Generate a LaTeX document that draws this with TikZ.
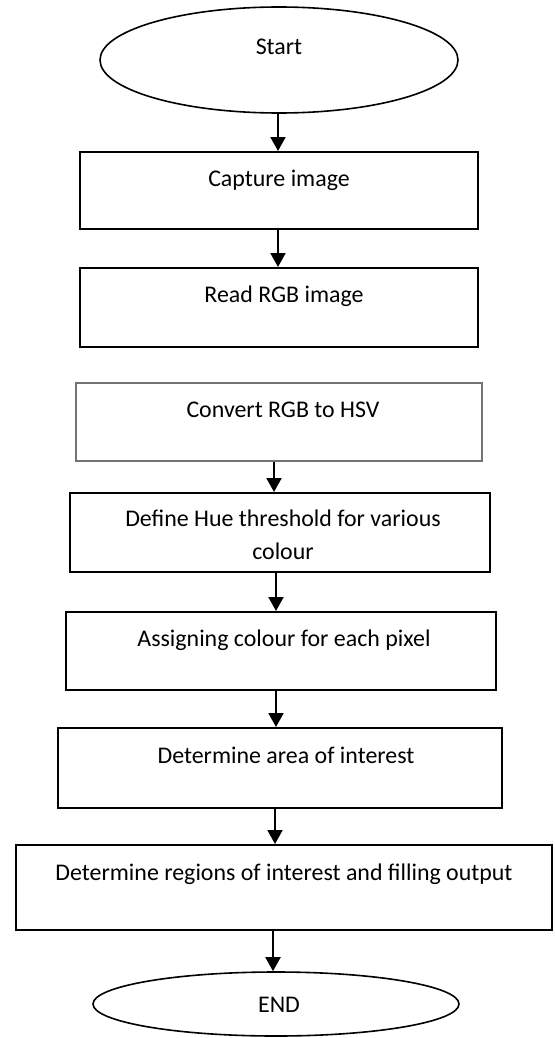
\documentclass[tikz,border=0pt]{standalone}
\usepackage{fontspec}
\setmainfont{Carlito}
\usetikzlibrary{arrows.meta,shapes.geometric}
\begin{document}
\begin{tikzpicture}[x=1pt,y=-1pt,
  font=\fontsize{23.9}{33}\selectfont,
  stepbox/.style={draw=black,line width=2pt,rectangle,inner sep=0pt},
  softbox/.style={draw=black!55,line width=1.3pt,rectangle,inner sep=0pt},
  term/.style={draw=black,line width=1.6pt,ellipse,inner sep=0pt},
  txt/.style={anchor=base,inner sep=0pt,align=center},
  flow/.style={line width=2pt,-{Triangle[width=15pt,length=14pt]}}
]
\useasboundingbox (0,0) rectangle (554,1038);

% terminals
\node[term,minimum width=358,minimum height=106] (start) at (279,60) {};
\node[txt] (startt) at (279,55) {Start};
\node[term,minimum width=366,minimum height=64] (end) at (276,1004) {};
\node[txt] (endt) at (279,1012) {END};

% process steps (box, then its caption set near the top)
\node[stepbox,minimum width=398,minimum height=77] (cap) at (279,190.5) {};
\node[txt] (capt) at (279,186) {Capture image};

\node[stepbox,minimum width=398,minimum height=79] (rgb) at (279,307.5) {};
\node[txt] (rgbt) at (284,302) {Read RGB image};

\node[softbox,minimum width=406,minimum height=78] (hsv) at (279,422) {};
\node[txt] (hsvt) at (283,417) {Convert RGB to HSV};

\node[stepbox,minimum width=420,minimum height=79] (hue) at (280,532.5) {};
\node[txt,anchor=north] (huet) at (283,510) {Define Hue threshold for various\\colour};

\node[stepbox,minimum width=430,minimum height=78] (pix) at (281,651) {};
\node[txt] (pixt) at (284,646) {Assigning colour for each pixel};

\node[stepbox,minimum width=444,minimum height=80] (area) at (280,768) {};
\node[txt] (areat) at (286,763) {Determine area of interest};

\node[stepbox,minimum width=536,minimum height=85] (roi) at (284,887.5) {};
\node[txt] (roit) at (284,880) {Determine regions of interest and filling output};

% connectors
\draw[flow] ([xshift=-1pt]start.south) -- ([xshift=-1pt]start.south |- cap.north);
\draw[flow] ([xshift=-1pt]cap.south) -- ([xshift=-1pt]cap.south |- rgb.north);
\draw[flow] ([xshift=-5pt]hsv.south) -- ([xshift=-5pt]hsv.south |- hue.north);
\draw[flow] ([xshift=-4pt]hue.south) -- ([xshift=-4pt]hue.south |- pix.north);
\draw[flow] ([xshift=-5pt]pix.south) -- ([xshift=-5pt]pix.south |- area.north);
\draw[flow] ([xshift=-5pt]area.south) -- ([xshift=-5pt]area.south |- roi.north);
\draw[flow] ([xshift=-11pt]roi.south) -- ([xshift=-11pt]roi.south |- end.north);
\end{tikzpicture}
\end{document}
